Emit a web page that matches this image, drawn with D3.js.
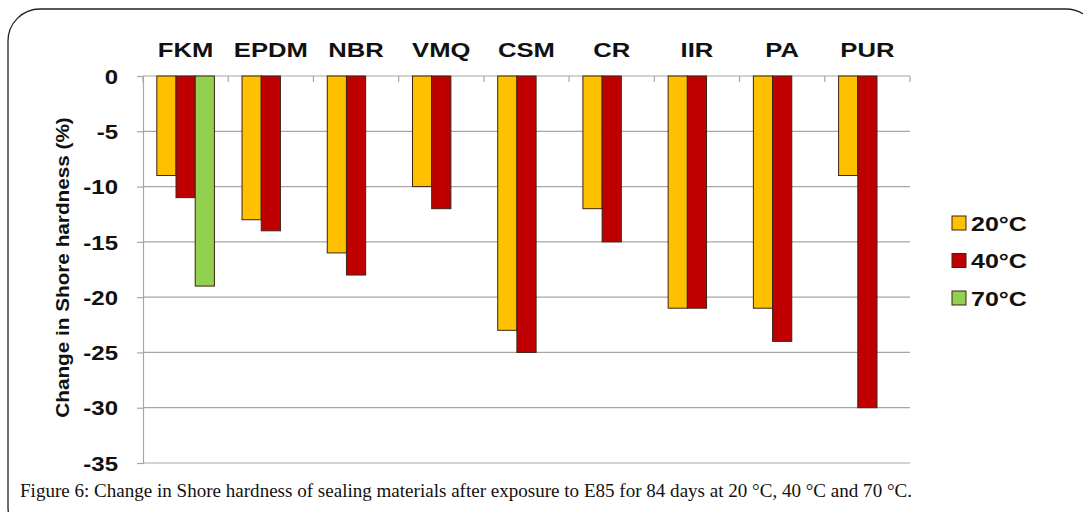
<!DOCTYPE html>
<html>
<head>
<meta charset="utf-8">
<script src="https://cdn.jsdelivr.net/npm/d3@7"></script>
<style>
html,body{margin:0;padding:0;background:#fff;}
svg{display:block;}
</style>
</head>
<body>
<svg id="chart" width="1083" height="512"></svg>
<script>
const categories = ["FKM","EPDM","NBR","VMQ","CSM","CR","IIR","PA","PUR"];
const series = ["20°C","40°C","70°C"];
const values20 = [-9,-13,-16,-10,-23,-12,-21,-21,-9];
const values40 = [-11,-14,-18,-12,-25,-15,-21,-24,-30];
const values70 = [-19,null,null,null,null,null,null,null,null];
const yTicks = [0,-5,-10,-15,-20,-25,-30,-35];
const colors = ["#FFC000","#C00000","#92D050"];
const yTitle = "Change in Shore hardness (%)";
const caption = "Figure 6: Change in Shore hardness of sealing materials after exposure to E85 for 84 days at 20 °C, 40 °C and 70 °C.";

const svg = d3.select("#chart");
const plotLeft = 143, plotRight = 910, plotTop = 76, plotBottom = 463;
const SANS = "Liberation Sans, Arial, sans-serif";

function stretch(sel, k){
  sel.each(function(){
    const L = this.getComputedTextLength();
    d3.select(this).attr("textLength", L*k).attr("lengthAdjust","spacingAndGlyphs");
  });
}

// frame
svg.append("rect").attr("x",8).attr("y",9).attr("width",1090).attr("height",530)
  .attr("rx",32).attr("ry",32).attr("fill","none").attr("stroke","#222").attr("stroke-width",1.3);

const x = d3.scaleBand().domain(categories).range([plotLeft,plotRight]).paddingInner(0).paddingOuter(0);
const x1 = d3.scaleBand().domain(series).range([0,x.bandwidth()]).paddingInner(0).paddingOuter(0.72);
const y = d3.scaleLinear().domain([0,-35]).range([plotTop,plotBottom]);

// gridlines
svg.append("g").selectAll("line").data(yTicks).join("line")
  .attr("x1",plotLeft).attr("x2",plotRight).attr("y1",d=>y(d)).attr("y2",d=>y(d))
  .attr("stroke","#a6a6a6").attr("stroke-width",1.2);

// y axis
const yAxis = d3.axisLeft(y).tickValues(yTicks).tickSize(6).tickPadding(19).tickFormat(d=>String(d));
const gy = svg.append("g").attr("transform",`translate(${plotLeft},0)`).call(yAxis);
gy.select(".domain").attr("stroke","#a6a6a6").attr("stroke-width",1.2);
gy.selectAll(".tick line").attr("stroke","#a6a6a6").attr("stroke-width",1.2);
const tt = gy.selectAll(".tick text").attr("font-family",SANS)
  .attr("font-weight","bold").attr("font-size",20).attr("fill","#111").attr("dy","0.36em");
stretch(tt, 1.2);

// category ticks (downward from zero line)
svg.append("g").selectAll("line").data(d3.range(categories.length+1)).join("line")
  .attr("x1",i=>plotLeft+i*x.bandwidth()).attr("x2",i=>plotLeft+i*x.bandwidth())
  .attr("y1",plotTop).attr("y2",plotTop+6).attr("stroke","#a6a6a6").attr("stroke-width",1.2);

// bars
const data = [];
categories.forEach((c,i)=>{
  [values20,values40,values70].forEach((arr,j)=>{
    if(arr[i]!==null) data.push({cat:c, s:series[j], v:arr[i], j});
  });
});
svg.append("g").selectAll("rect").data(data).join("rect")
  .attr("x",d=>x(d.cat)+x1(d.s))
  .attr("y",y(0))
  .attr("width",x1.bandwidth())
  .attr("height",d=>y(d.v)-y(0))
  .attr("fill",d=>colors[d.j])
  .attr("stroke","#3b2414").attr("stroke-width",1);

// category labels at top
const cl = svg.append("g").selectAll("text").data(categories).join("text")
  .attr("x",d=>x(d)+x.bandwidth()/2).attr("y",57)
  .attr("text-anchor","middle")
  .attr("font-family",SANS).attr("font-weight","bold")
  .attr("font-size",20.5).attr("fill","#111").text(d=>d);
stretch(cl, 1.25);

// y title
const yt = svg.append("text").attr("transform",`translate(69,${(plotTop+plotBottom)/2-2}) rotate(-90)`)
  .attr("text-anchor","middle")
  .attr("font-family",SANS).attr("font-weight","bold")
  .attr("font-size",18.5).attr("fill","#111").text(yTitle);
stretch(yt, 1.12);

// legend
const lg = svg.append("g").selectAll("g").data(series).join("g")
  .attr("transform",(d,i)=>`translate(952,${216+i*37.5})`);
lg.append("rect").attr("width",14).attr("height",14)
  .attr("fill",(d,i)=>colors[i]).attr("stroke","#3b2414").attr("stroke-width",1);
const lt = lg.append("text").attr("x",19).attr("y",14.5)
  .attr("font-family",SANS).attr("font-weight","bold")
  .attr("font-size",19.5).attr("fill","#111").text(d=>d);
stretch(lt, 1.28);

// caption
svg.append("text").attr("x",20).attr("y",497)
  .attr("font-family","Liberation Serif, Times New Roman, serif")
  .attr("font-size",19.5).attr("fill","#111")
  .attr("textLength",892).attr("lengthAdjust","spacingAndGlyphs")
  .text(caption);
</script>
</body>
</html>
